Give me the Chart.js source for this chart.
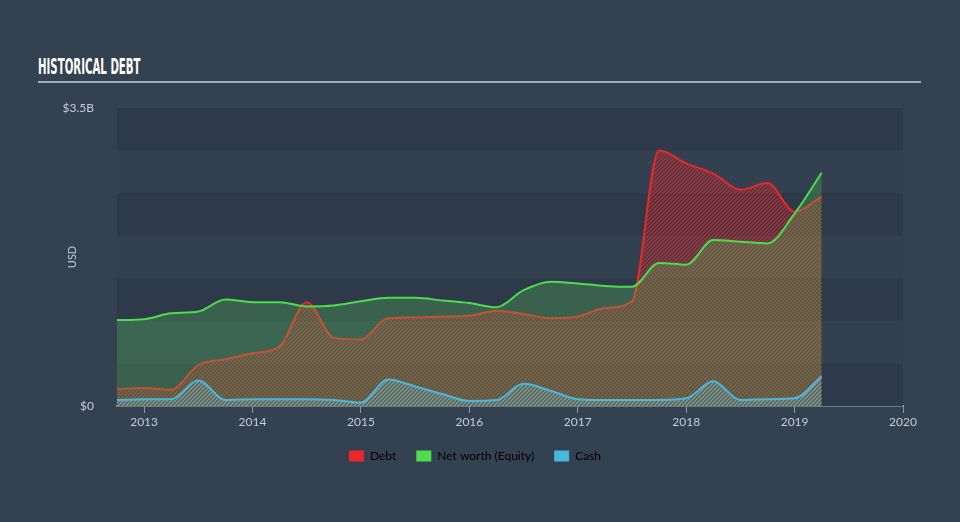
<!DOCTYPE html>
<html lang="en">
<head>
<meta charset="UTF-8">
<title>Historical Debt</title>
<script src="https://cdn.jsdelivr.net/npm/chart.js"></script>
<style>
  html, body { margin: 0; padding: 0; background: #344150; }
  body { width: 960px; height: 522px; position: relative; overflow: hidden; }
  #title {
    position: absolute; left: 38px; top: 55px;
    font-family: "Liberation Sans Narrow", "DejaVu Sans Condensed", sans-serif;
    font-weight: bold; font-size: 21px; color: #ffffff;
    transform: scaleX(0.54); transform-origin: left top; white-space: nowrap;
  }
  #rule { position: absolute; left: 38px; top: 81px; width: 883px; height: 2px; background: #a3adb8; }
  #chart { position: absolute; left: 0; top: 0; }
</style>
</head>
<body>
<div id="title">HISTORICAL DEBT</div>
<div id="rule"></div>
<canvas id="chart" width="960" height="522"></canvas>
<script>
// quarter ends, decimal years
const quarters = [2012.75, 2013, 2013.25, 2013.5, 2013.75, 2014, 2014.25, 2014.5, 2014.75,
                  2015, 2015.25, 2015.5, 2015.75, 2016, 2016.25, 2016.5, 2016.75,
                  2017, 2017.25, 2017.5, 2017.75, 2018, 2018.25, 2018.5, 2018.75, 2019, 2019.25];
// values in $B
const debt   = [0.20, 0.21, 0.19, 0.48, 0.55, 0.62, 0.70, 1.22, 0.80, 0.78, 1.03, 1.04, 1.05, 1.06,
                1.12, 1.08, 1.03, 1.05, 1.15, 1.23, 3.00, 2.85, 2.73, 2.54, 2.62, 2.28, 2.46];
const equity = [1.01, 1.02, 1.09, 1.11, 1.25, 1.22, 1.22, 1.17, 1.18, 1.23, 1.27, 1.27, 1.24, 1.21,
                1.16, 1.36, 1.46, 1.44, 1.41, 1.40, 1.68, 1.66, 1.95, 1.93, 1.91, 2.26, 2.74];
const cash   = [0.07, 0.08, 0.08, 0.30, 0.07, 0.08, 0.08, 0.08, 0.07, 0.04, 0.31, 0.23, 0.14, 0.06,
                0.07, 0.26, 0.18, 0.08, 0.07, 0.07, 0.07, 0.09, 0.29, 0.07, 0.08, 0.09, 0.35];

const yearTicks = [2013, 2014, 2015, 2016, 2017, 2018, 2019, 2020];
const yTicks = [0, 3.5];
const yTickLabels = ['$0', '$3.5B'];
const seriesNames = ['Debt', 'Net worth (Equity)', 'Cash'];
const seriesColors = ['#e8282a', '#4cdc4c', '#48b8dc'];

const txt = '#c5ccd5';
const fontFam = 'Lato, "Open Sans", sans-serif';

function hatch(stripe, base) {
  const c = document.createElement('canvas');
  c.width = 4; c.height = 4;
  const g = c.getContext('2d');
  if (base) { g.fillStyle = base; g.fillRect(0, 0, 4, 4); }
  g.strokeStyle = stripe;
  g.lineWidth = 1.4;
  g.beginPath();
  g.moveTo(0, 4); g.lineTo(4, 0);
  g.moveTo(-1, 1); g.lineTo(1, -1);
  g.moveTo(3, 5); g.lineTo(5, 3);
  g.stroke();
  return g.createPattern(c, 'repeat');
}

function points(vals) {
  return quarters.map((q, i) => ({ x: q, y: vals[i] }));
}

// alternating horizontal bands behind the plot
const bands = {
  id: 'bands',
  beforeDatasetsDraw(chart) {
    const { ctx, chartArea: a, scales: { y } } = chart;
    ctx.save();
    for (let k = 0; k < 7; k++) {
      const top = y.getPixelForValue((k + 1) * 0.5);
      const bot = y.getPixelForValue(k * 0.5);
      ctx.fillStyle = k % 2 ? '#324050' : '#2e3a49';
      ctx.fillRect(a.left, top, a.right - a.left, bot - top);
    }
    ctx.restore();
  }
};

new Chart(document.getElementById('chart').getContext('2d'), {
  type: 'line',
  data: {
    datasets: [
      {
        label: seriesNames[0], data: points(debt), order: 3,
        borderColor: seriesColors[0], backgroundColor: hatch('rgba(232,40,42,0.75)'), fill: 'origin'
      },
      {
        label: seriesNames[1], data: points(equity), order: 2,
        borderColor: seriesColors[1], backgroundColor: 'rgba(85,200,90,0.28)', fill: 'origin'
      },
      {
        label: seriesNames[2], data: points(cash), order: 1,
        borderColor: seriesColors[2], backgroundColor: hatch('rgba(150,195,205,0.5)', 'rgba(72,184,220,0.12)'), fill: 'origin'
      }
    ]
  },
  options: {
    responsive: false,
    animation: false,
    layout: { padding: { left: 0, right: 10, top: 108, bottom: 50 } },
    elements: {
      point: { radius: 0 },
      line: { borderWidth: 2, cubicInterpolationMode: 'monotone' }
    },
    scales: {
      x: {
        type: 'linear', min: 2012.75, max: 2020,
        afterBuildTicks: s => { s.ticks = yearTicks.map(v => ({ value: v })); },
        afterFit: s => { s.height = 24; },
        ticks: { callback: v => String(v), color: txt, font: { family: fontFam, size: 12 }, padding: 2, maxRotation: 0, autoSkip: false },
        grid: { display: true, drawOnChartArea: false, drawTicks: true, tickLength: 7, color: '#8e99a6' },
        border: { display: true, color: '#a9b3be', width: 1.5 }
      },
      y: {
        min: 0, max: 3.5,
        afterBuildTicks: s => { s.ticks = yTicks.map(v => ({ value: v })); },
        afterFit: s => { s.width = 117; },
        ticks: { callback: (v, i) => yTickLabels[i], color: txt, font: { family: fontFam, size: 12 }, padding: 15 },
        grid: { display: false },
        border: { display: false },
        title: { display: true, text: 'USD', color: txt, font: { family: fontFam, size: 11 }, padding: { top: 66, bottom: 0 } }
      },
      // empty right gutter so the legend centres like the original
      gutter: {
        position: 'right', min: 0, max: 3.5,
        afterFit: s => { s.width = 47; },
        ticks: { display: false },
        grid: { display: false },
        border: { display: false }
      }
    },
    plugins: {
      tooltip: { enabled: false },
      legend: {
        position: 'bottom',
        labels: {
          boxWidth: 15, boxHeight: 11, padding: 20, color: txt,
          font: { family: fontFam, size: 12 },
          generateLabels: () => seriesNames.map((n, i) => ({
            text: n, fillStyle: seriesColors[i], strokeStyle: seriesColors[i], lineWidth: 0, datasetIndex: i
          }))
        }
      }
    }
  },
  plugins: [bands]
});
</script>
</body>
</html>
